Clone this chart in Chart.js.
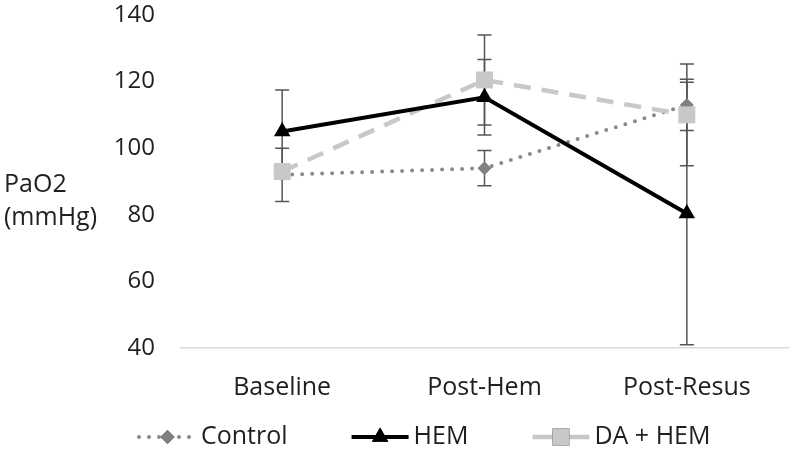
<!DOCTYPE html>
<html>
<head>
<meta charset="utf-8">
<script src="https://cdn.jsdelivr.net/npm/chart.js@4/dist/chart.umd.min.js"></script>
<style>
    body { margin: 0; background: #fff; }
    canvas { display: block; }
</style>
</head>
<body>
<canvas id="pao2-chart" width="800" height="455"></canvas>
<script>
const categories = ['Baseline', 'Post-Hem', 'Post-Resus'];
const yTicks = [40, 60, 80, 100, 120, 140];

const controlMean = [92, 94, 113];
const controlErr = [8, 5.3, 7.7];
const hemMean = [105, 115.3, 80.4];
const hemErr = [12.5, 11.3, 39.4];
const daHemMean = [93, 120.5, 110];
const daHemErr = [1.5, 13.5, 15.3];

const FONT = '"Open Sans", sans-serif';
const TEXT_COLOR = '#1f1f1f';

// error bars drawn under the markers, using the chart scales
const errorBarsPlugin = {
    id: 'errorBars',
    beforeDatasetsDraw(chart) {
        const ctx = chart.ctx;
        const yScale = chart.scales.y;
        const xScale = chart.scales.x;
        ctx.save();
        ctx.strokeStyle = '#555555';
        ctx.lineWidth = 1.5;
        chart.data.datasets.forEach(ds => {
            ds.data.forEach((v, i) => {
                const x = xScale.getPixelForValue(i);
                const top = yScale.getPixelForValue(v + ds.errors[i]);
                const bot = yScale.getPixelForValue(v - ds.errors[i]);
                ctx.beginPath();
                ctx.moveTo(x, top);
                ctx.lineTo(x, bot);
                ctx.moveTo(x - 7, top);
                ctx.lineTo(x + 7, top);
                ctx.moveTo(x - 7, bot);
                ctx.lineTo(x + 7, bot);
                ctx.stroke();
            });
        });
        ctx.restore();
    }
};

// y title on two horizontal lines + legend at the bottom
const extrasPlugin = {
    id: 'extras',
    afterDraw(chart) {
        const ctx = chart.ctx;
        ctx.save();
        ctx.fillStyle = TEXT_COLOR;
        ctx.font = '25px ' + FONT;
        ctx.textAlign = 'left';
        ctx.textBaseline = 'middle';
        ctx.fillText('PaO2', 4, 185);
        ctx.fillText('(mmHg)', 4, 218);

        let x = 139;
        const y = 437;
        chart.data.datasets.forEach(ds => {
            const w = 57;
            ctx.save();
            ctx.strokeStyle = ds.borderColor;
            ctx.lineWidth = ds.borderWidth;
            ctx.lineCap = ds.borderCapStyle || 'butt';
            ctx.setLineDash(ds.legendDash || []);
            ctx.beginPath();
            ctx.moveTo(x, y);
            ctx.lineTo(x + w, y);
            ctx.stroke();
            ctx.restore();
            ctx.beginPath();
            Chart.helpers.drawPoint(ctx, {
                pointStyle: ds.pointStyle,
                radius: ds.pointRadius,
                borderWidth: 0
            }, x + w / 2, y);
            ctx.fillStyle = ds.pointBackgroundColor;
            ctx.fill();
            ctx.fillStyle = TEXT_COLOR;
            ctx.fillText(ds.label, x + w + 5, y);
            x += w + 5 + ctx.measureText(ds.label).width + 64;
        });
        ctx.restore();
    }
};

new Chart(document.getElementById('pao2-chart'), {
    type: 'line',
    data: {
        labels: categories,
        datasets: [
            {
                label: 'Control',
                data: controlMean,
                errors: controlErr,
                borderColor: '#8a8a8a',
                borderWidth: 4,
                borderDash: [0, 10],
                legendDash: [0, 10],
                borderCapStyle: 'round',
                pointStyle: 'rectRot',
                pointRadius: 7,
                pointBackgroundColor: '#808080',
                pointBorderColor: '#808080',
                pointBorderWidth: 0,
                order: 3
            },
            {
                label: 'HEM',
                data: hemMean,
                errors: hemErr,
                borderColor: '#000000',
                borderWidth: 4,
                pointStyle: 'triangle',
                pointRadius: 9.5,
                pointBackgroundColor: '#000000',
                pointBorderColor: '#000000',
                pointBorderWidth: 0,
                order: 1
            },
            {
                label: 'DA + HEM',
                data: daHemMean,
                errors: daHemErr,
                borderColor: '#c8c8c8',
                borderWidth: 4.5,
                borderDash: [17, 11],
                pointStyle: 'rect',
                pointRadius: 12,
                pointBackgroundColor: '#c8c8c8',
                pointBorderColor: '#c8c8c8',
                pointBorderWidth: 0,
                order: 2
            }
        ]
    },
    options: {
        responsive: false,
        animation: false,
        layout: { padding: { top: 15, right: 9, left: 0, bottom: 0 } },
        plugins: {
            legend: { display: false },
            tooltip: { enabled: false }
        },
        scales: {
            x: {
                offset: true,
                grid: { display: false, drawTicks: false },
                border: { display: true, color: '#d9d9d9', width: 1.5 },
                ticks: { color: TEXT_COLOR, font: { family: FONT, size: 25 }, padding: 25 },
                afterFit: s => { s.height = 107; s.paddingLeft = 0; s.paddingRight = 0; }
            },
            y: {
                min: 40,
                max: 140,
                grid: { display: false, drawTicks: false },
                border: { display: false },
                afterBuildTicks: s => { s.ticks = yTicks.map(v => ({ value: v })); },
                ticks: { color: TEXT_COLOR, font: { family: FONT, size: 24 }, padding: 26 },
                afterFit: s => { s.width = 181; s.paddingTop = 0; s.paddingBottom = 0; }
            }
        }
    },
    plugins: [errorBarsPlugin, extrasPlugin]
});
</script>
</body>
</html>
